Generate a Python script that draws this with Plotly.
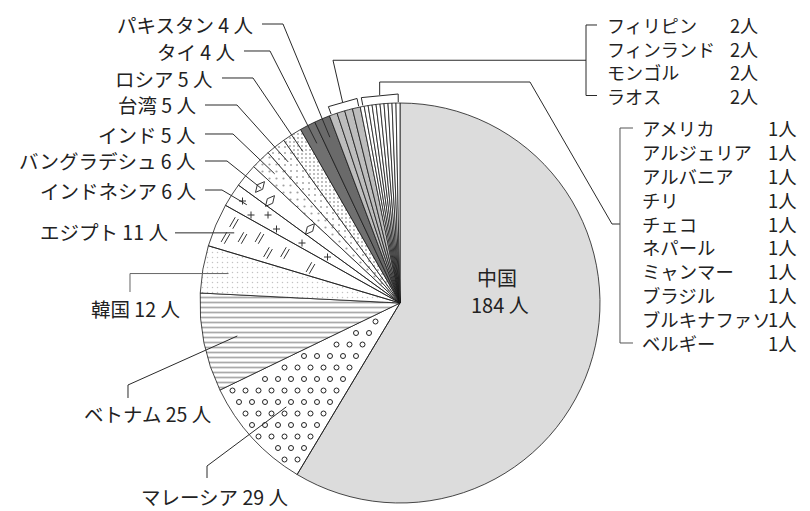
import math
import plotly.graph_objects as go

# ---------------- data ----------------
countries = ["中国", "マレーシア", "ベトナム", "韓国", "エジプト", "インドネシア",
             "バングラデシュ", "インド", "台湾", "ロシア", "タイ", "パキスタン",
             "フィリピン", "フィンランド", "モンゴル", "ラオス",
             "アメリカ", "アルジェリア", "アルバニア", "チリ", "チェコ", "ネパール",
             "ミャンマー", "ブラジル", "ブルキナファソ", "ベルギー"]
counts = [184, 29, 25, 12, 11, 6, 6, 5, 5, 5, 4, 4,
          2, 2, 2, 2,
          1, 1, 1, 1, 1, 1, 1, 1, 1, 1]
unit = "人"

# ---------------- geometry / styling ----------------
W, H = 810, 511
CX, CY, R = 400, 303, 200
FONT = "Noto Sans CJK JP"
TXT = "#222222"
LINE = "#2a2a2a"
CLEAR = "rgba(0,0,0,0)"
LFS = 19.5

total = sum(counts)
cum = [0]
for c in counts:
    cum.append(cum[-1] + c)


def ang(i, frac=0.5):
    return 360.0 * (cum[i] + frac * counts[i]) / total


def ang_at(v):
    return 360.0 * v / total


def pt(a_deg, r):
    a = math.radians(a_deg)
    return CX + r * math.sin(a), CY - r * math.cos(a)


def px(x):
    return x / W


def py(y):
    return 1 - y / H


def path(points):
    s = ""
    for k, (x, y) in enumerate(points):
        s += ("M" if k == 0 else "L") + f"{px(x):.5f},{py(y):.5f} "
    return s.strip()


# slice fills (transparent ones get a texture drawn underneath)
colors = (["#dcdcdc", CLEAR, "#ffffff", "#ffffff", CLEAR, CLEAR, CLEAR,
           "#ffffff", "#ffffff", "#ffffff", "#707070", "#6a6a6a"] +
          ["#bdbdbd"] * 4 + ["#ffffff"] * 10)
shapes_p = ["", "", "-", ".", "", "", "", ".", ".", "."] + [""] * 16
sizes_p = [8, 8, 5, 5, 8, 8, 8, 7, 6, 4] + [8] * 16
solid_p = [0.2, 0.2, 0.35, 0.07, 0.2, 0.2, 0.2, 0.08, 0.1, 0.16] + [0.2] * 16
fg_p = ["#222", "#222", "#555", "#888", "#222", "#222", "#222", "#444", "#555", "#444"] + ["#222"] * 16


def texture(i, dx, dy, margin_px=4.0, rmin=10.0):
    """lattice points lying inside slice i (decorative fill texture)"""
    a0, a1 = ang_at(cum[i]), ang_at(cum[i + 1])
    xs, ys = [], []
    j = 0
    y = CY - R
    while y <= CY + R:
        x = CX - R + (dx / 2 if j % 2 else 0)
        while x <= CX + R:
            r = math.hypot(x - CX, y - CY)
            if rmin < r < R - margin_px:
                th = math.degrees(math.atan2(x - CX, -(y - CY))) % 360
                dm = math.degrees(margin_px / r)
                if a0 + dm < th < a1 - dm:
                    xs.append(x)
                    ys.append(y)
            x += dx
        y += dy
        j += 1
    return xs, ys


fig = go.Figure()

# textures (under the pie; their slices are transparent)
mx, my = texture(1, 13, 11.5, 5, 20)
fig.add_trace(go.Scatter(x=mx, y=my, mode="markers", hoverinfo="skip", showlegend=False,
                         marker=dict(symbol="circle-open", size=5, color="#222",
                                     line=dict(width=1, color="#222"))))
ex, ey = texture(4, 17, 15, 6, 40)
off = 1.8
ex2 = [x + s * off * 0.866 for x in ex for s in (-1, 1)]
ey2 = [y + s * off * 0.5 for y in ey for s in (-1, 1)]
fig.add_trace(go.Scatter(x=ex2, y=ey2, mode="markers", hoverinfo="skip", showlegend=False,
                         marker=dict(symbol="line-ns-open", size=8, angle=30, color="#333",
                                     line=dict(width=1, color="#333"))))
ix, iy = texture(5, 17, 14, 4, 40)
fig.add_trace(go.Scatter(x=ix, y=iy, mode="markers", hoverinfo="skip", showlegend=False,
                         marker=dict(symbol="cross-thin-open", size=5, color="#333",
                                     line=dict(width=1, color="#333"))))
bx, by = texture(6, 20, 14, 5, 50)
fig.add_trace(go.Scatter(x=bx, y=by, mode="markers", hoverinfo="skip", showlegend=False,
                         marker=dict(symbol="diamond-tall-open", size=10, angle=40, color="#333",
                                     line=dict(width=1, color="#333"))))

fig.add_trace(go.Pie(
    labels=countries, values=counts, sort=False, direction="clockwise",
    rotation=0, textinfo="none", hoverinfo="label+value", showlegend=False,
    domain=dict(x=[(CX - R) / W, (CX + R) / W], y=[1 - (CY + R) / H, 1 - (CY - R) / H]),
    marker=dict(colors=colors, line=dict(color="#1a1a1a", width=0.8),
                pattern=dict(shape=shapes_p, size=sizes_p, solidity=solid_p,
                             fgcolor=fg_p, fillmode="overlay")),
))

annotations = []
shapes = []


def label(text, x, y, anchor="right", size=LFS, align="left"):
    annotations.append(dict(text=text, x=px(x), y=py(y), xref="paper", yref="paper",
                            xanchor=anchor, yanchor="middle", showarrow=False, align=align,
                            font=dict(family=FONT, size=size, color=TXT)))


def leader(points, color=LINE):
    shapes.append(dict(type="path", path=path(points), xref="paper", yref="paper",
                       line=dict(color=color, width=1)))


# left-side labels with elbow leaders: (slice index, label y, text right x, knee x, radius frac)
left = [(11, 24, 255, 283, 0.90), (10, 51, 237, 270, 0.90), (9, 78, 215, 253, 0.90),
        (8, 105, 198, 237, 0.90), (7, 134, 198, 233, 0.90), (6, 161, 198, 227, 0.90),
        (5, 190, 198, 222, 0.91)]
for i, y, xe, xk, rf in left:
    label(f"{countries[i]} {counts[i]} {unit}", xe, y)
    leader([(xe + 7, y), (xk, y), pt(ang(i), rf * R)])

# Egypt: straight leader
i = 4
p = pt(ang(i), 0.9 * R)
label(f"{countries[i]} {counts[i]} {unit}", 170, 231)
leader([(175, p[1]), p])

# Korea
i = 3
p = pt(ang(i), 0.87 * R)
label(f"{countries[i]} {counts[i]} {unit}", 182, 308)
leader([(130, 292), (130, p[1]), p], color="#666666")

# Vietnam
i = 2
p = pt(ang(i), 0.83 * R)
label(f"{countries[i]} {counts[i]} {unit}", 213, 413)
leader([(128, 398), (128, 385), p])

# Malaysia
i = 1
p = pt(ang(i), 0.77 * R)
label(f"{countries[i]} {counts[i]} {unit}", 290, 496)
leader([(207, 478), (207, 466), p])

# China text
i = 0
label(countries[i], 497, 277, anchor="center", size=20)
label(f"{counts[i]} {unit}", 500, 304, anchor="center", size=20)

# group of 2-person slices
g2 = [k for k in range(len(counts)) if counts[k] == 2]
a0, a1 = ang_at(cum[g2[0]]) + 0.6, ang_at(cum[g2[-1] + 1]) - 0.4
rb = R + 9
leader([pt(a0, R + 1), pt(a0, rb), pt(a1, rb), pt(a1, R + 1)])
m = pt((a0 + a1) / 2, rb)
top2, bot2 = 25, 95.5
leader([m, (333, (top2 + bot2) / 2), (586, (top2 + bot2) / 2)])
leader([(597, top2), (586, top2), (586, bot2), (597, bot2)])
fs2 = (bot2 - top2) / (len(g2) - 1) / 1.3
label("<br>".join(countries[k] for k in g2), 605, (top2 + bot2) / 2, anchor="left", size=fs2)
label("<br>".join(f"{counts[k]}{unit}" for k in g2), 760, (top2 + bot2) / 2,
      anchor="right", size=fs2, align="right")

# group of 1-person slices
g1 = [k for k in range(len(counts)) if counts[k] == 1]
a0, a1 = ang_at(cum[g1[0]]) + 0.8, ang_at(cum[g1[-1] + 1]) - 0.5
leader([pt(a0, R + 1), pt(a0, rb), pt(a1, rb), pt(a1, R + 1)])
m = pt((a0 + a1) / 2, rb)
top1, bot1 = 128, 343
leader([m, (m[0], 82), (530, 82), (612, 224), (620, 224)])
leader([(633, top1), (620, top1), (620, bot1), (633, bot1)], color="#555555")
fs1 = (bot1 - top1) / (len(g1) - 1) / 1.3
label("<br>".join(countries[k] for k in g1), 640, (top1 + bot1) / 2, anchor="left", size=fs1)
label("<br>".join(f"{counts[k]}{unit}" for k in g1), 799, (top1 + bot1) / 2,
      anchor="right", size=fs1, align="right")

fig.update_layout(
    width=W, height=H, margin=dict(l=0, r=0, t=0, b=0),
    paper_bgcolor="white", plot_bgcolor="white",
    xaxis=dict(range=[0, W], visible=False, domain=[0, 1], fixedrange=True),
    yaxis=dict(range=[H, 0], visible=False, domain=[0, 1], fixedrange=True),
    annotations=annotations, shapes=shapes,
    font=dict(family=FONT),
)
fig.write_html("out.html")
